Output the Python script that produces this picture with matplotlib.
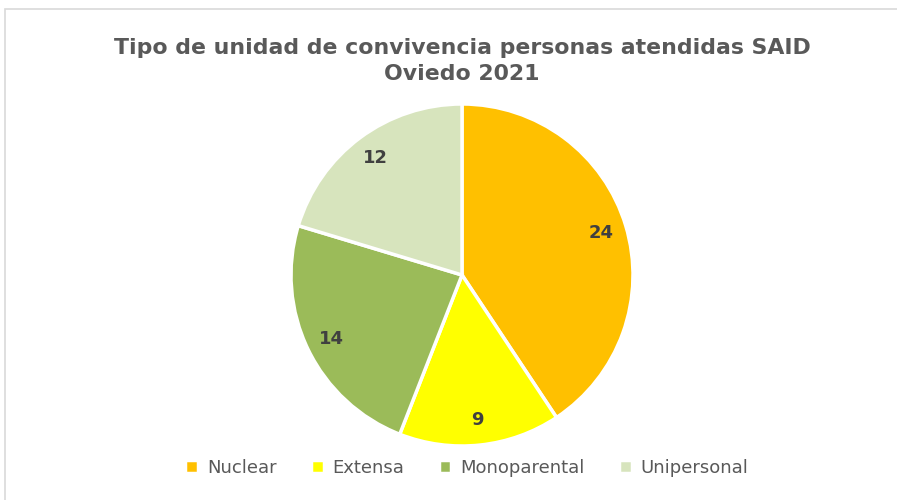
import matplotlib.pyplot as plt
from matplotlib.patches import Rectangle

categories = ['Nuclear', 'Extensa', 'Monoparental', 'Unipersonal']
values = [24, 9, 14, 12]
colors = ['#FFC000', '#FFFF00', '#9BBB59', '#D7E4BD']

fig = plt.figure(figsize=(8.97, 5), dpi=100)

# light border of the chart area (right and bottom edges run off the image)
fig.patches.append(Rectangle((5 / 897, -0.05), 1.1, 1.05 - 9 / 500, transform=fig.transFigure,
                             fill=False, edgecolor='#D9D9D9', linewidth=1.2))

# pie axes: center ~ (462, 275), radius ~171 px
r = 171
cx, cy = 462, 275
ax = fig.add_axes([(cx - r) / 897, (500 - cy - r) / 500, 2 * r / 897, 2 * r / 500])

wedges, texts, autotexts = ax.pie(
    values, colors=colors, startangle=90, counterclock=False,
    autopct=lambda p: '%d' % round(p * sum(values) / 100), pctdistance=0.85,
    wedgeprops={'edgecolor': 'white', 'linewidth': 2.5},
    textprops={'fontsize': 13, 'fontweight': 'bold', 'color': '#404040'})
ax.set_xlim(-1, 1)
ax.set_ylim(-1, 1)
ax.set_aspect('equal')

fig.text(462 / 897, 1 - 61 / 500, 'Tipo de unidad de convivencia personas atendidas SAID\nOviedo 2021',
         ha='center', va='center', fontsize=15.8, fontweight='bold', color='#595959',
         linespacing=1.35)

fig.legend(wedges, categories, loc='center', bbox_to_anchor=(467 / 897, 1 - 468 / 500),
           ncol=4, frameon=False, fontsize=13, handlelength=0.7, handleheight=0.7,
           handletextpad=0.5, columnspacing=1.9, labelcolor='#595959')

fig.savefig('out.png', dpi=100)
